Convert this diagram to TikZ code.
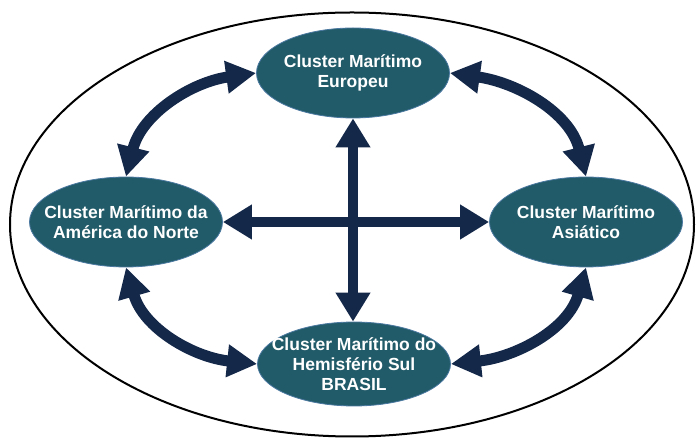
\documentclass[tikz,border=0pt]{standalone}
\usepackage{fontspec}
\setmainfont{Liberation Sans}
\usetikzlibrary{arrows.meta,shapes.geometric}
\definecolor{navy}{HTML}{14284A}
\definecolor{teal}{HTML}{215A68}
\definecolor{rim}{HTML}{4A78A0}
\begin{document}
\begin{tikzpicture}[x=1pt,y=1pt,
  cluster/.style={ellipse,fill=teal,draw=rim,line width=0.8pt,inner ysep=0pt,
    inner xsep=-14pt,minimum width=193pt,minimum height=90pt,text=white,align=center,
    font=\fontsize{17.5}{20}\selectfont\bfseries},
  straightarrow/.style={draw=navy,line width=10.5pt,
    {Triangle[length=29pt,width=33pt]}-{Triangle[length=29pt,width=33pt]}},
  curvedarrow/.style={draw=navy,line width=11pt,
    {Triangle[length=30pt,width=31pt]}-{Triangle[length=30pt,width=31pt]}}]
\useasboundingbox (0,0) rectangle (696,441);
\draw[line width=2pt] (352,216.5) ellipse [x radius=342, y radius=212];
\node[cluster] (E) at (353,368) {Cluster Marítimo\\Europeu};
\node[cluster] (A) at (126,219) {Cluster Marítimo da\\América do Norte};
\node[cluster] (S) at (586,219) {Cluster Marítimo\\Asiático};
\node[cluster,minimum height=84pt] (B) at (354,77) {Cluster Marítimo do\\Hemisfério Sul\\BRASIL};
\draw[straightarrow] (E.south) -- (E.south |- B.north);
\draw[straightarrow] (A.east) -- (S.west);
\draw[curvedarrow] (A.north) to[out=76,in=188] (E.west);
\draw[curvedarrow] (E.east) to[out=-8,in=104] (S.north);
\draw[curvedarrow] (A.south) to[out=-74,in=174] (B.west);
\draw[curvedarrow] (B.east) to[out=6,in=-106] (S.south);
\end{tikzpicture}
\end{document}
